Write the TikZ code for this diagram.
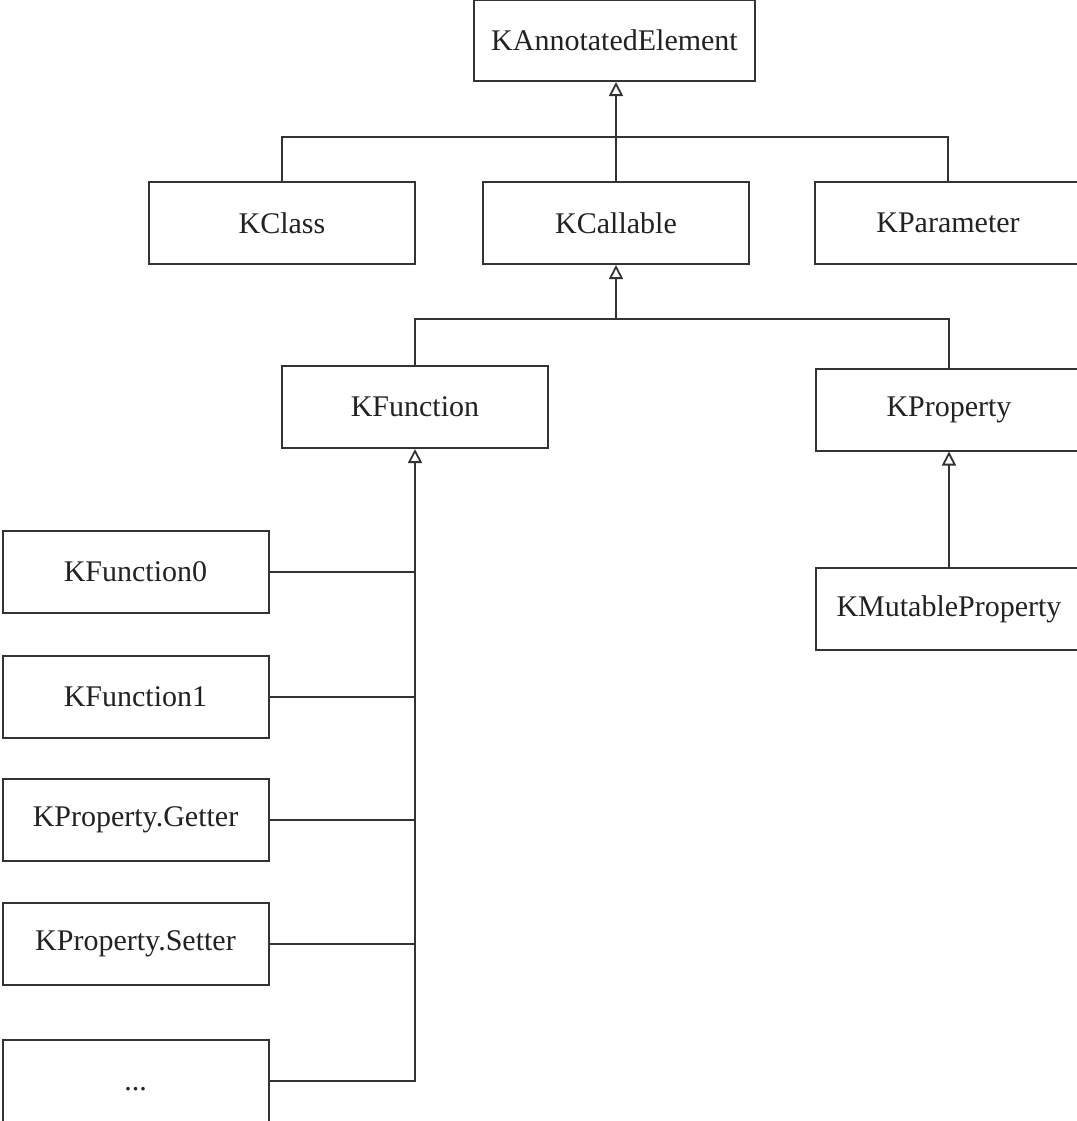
\documentclass[tikz,border=0pt]{standalone}
\usepackage{fontspec}
\setmainfont{Liberation Serif}
\usetikzlibrary{arrows.meta}
\definecolor{ln}{HTML}{333333}
\definecolor{tx}{HTML}{222222}
\begin{document}
\begin{tikzpicture}[x=0.5pt,y=-0.5pt,
  cls/.style={draw=ln,line width=1pt,fill=white,minimum width=133pt,minimum height=41pt,inner sep=0pt,text=tx,font=\fontsize{15}{18}\selectfont},
  conn/.style={draw=ln,line width=1pt},
  inh/.style={conn,-{Triangle[open,width=7pt,length=7pt,line width=0.9pt]}}]
\useasboundingbox (0,0) rectangle (1077,1121);
\clip (0,0) rectangle (1077,1121);
\node[cls,minimum width=140.5pt,minimum height=40.5pt] (kae) at (614.5,40.5) {KAnnotatedElement};
\node[cls] (kclass) at (282,223) {KClass};
\node[cls] (kcallable) at (616,223) {KCallable};
\node[cls] (kparam) at (948,223) {KParameter};
\node[cls] (kfunction) at (415,407) {KFunction};
\node[cls] (kproperty) at (949,409.5) {KProperty};
\node[cls] (kmut) at (949,609) {KMutableProperty};
\node[cls] (kf0) at (135.5,572) {KFunction0};
\node[cls] (kf1) at (135.5,696.5) {KFunction1};
\node[cls] (kget) at (135.5,820) {KProperty.Getter};
\node[cls] (kset) at (135.5,944) {KProperty.Setter};
\node[cls] (kdots) at (135.5,1081) {\vphantom{K}...};
\coordinate (j1) at (616,137);
\coordinate (j2) at (616,319);
\draw[conn] (kclass.north) |- (j1) -| (kparam.north);
\draw[inh] (kcallable.north) -- (kcallable.north |- kae.south);
\draw[conn] (kfunction.north) |- (j2) -| (kproperty.north);
\draw[inh] (j2) -- (kcallable.south);
\draw[inh] (kdots.east) -| (kfunction.south);
\draw[conn] (kf0.east) -- (kf0.east -| kfunction.south);
\draw[conn] (kf1.east) -- (kf1.east -| kfunction.south);
\draw[conn] (kget.east) -- (kget.east -| kfunction.south);
\draw[conn] (kset.east) -- (kset.east -| kfunction.south);
\draw[inh] (kmut.north) -- (kproperty.south);
\end{tikzpicture}
\end{document}
